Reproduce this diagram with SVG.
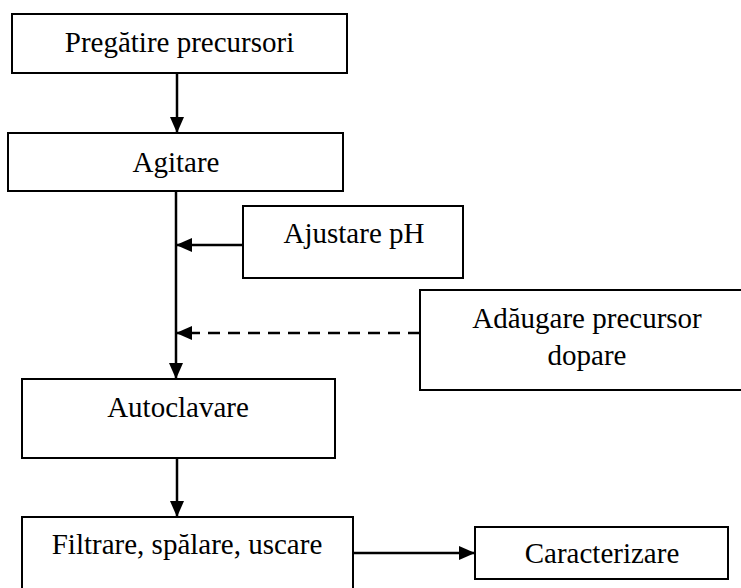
<svg xmlns="http://www.w3.org/2000/svg" width="741" height="588" viewBox="0 0 741 588">
<style>
.box{fill:#fff;stroke:#000;stroke-width:2}
.t{font-size:29px;fill:#000;text-anchor:middle}
.c{stroke:#000;stroke-width:2.5;fill:none}
.d{stroke-dasharray:12 8}
</style>
<defs>
<marker id="ah" markerUnits="userSpaceOnUse" markerWidth="17" markerHeight="14" refX="16" refY="7" orient="auto">
<path d="M0,0 L16,7 L0,14 z" fill="#000"/>
</marker>
</defs>
<rect width="741" height="588" fill="#fff"/>
<g font-family="'Liberation Serif', 'DejaVu Serif', serif">
<g id="n1"><rect class="box" x="12" y="14" width="335" height="59"/><text class="t" x="179.5" y="52">Pregătire precursori</text></g>
<g id="n2"><rect class="box" x="8" y="133" width="335" height="58"/><text class="t" x="176" y="172">Agitare</text></g>
<g id="n3"><rect class="box" x="243" y="206" width="220" height="72"/><text class="t" x="354" y="243">Ajustare pH</text></g>
<g id="n4"><rect class="box" x="420" y="290" width="334" height="100"/><text class="t" x="587" y="328">Adăugare precursor</text><text class="t" x="587" y="365">dopare</text></g>
<g id="n5"><rect class="box" x="22" y="379" width="313" height="79"/><text class="t" x="178" y="417">Autoclavare</text></g>
<g id="n6"><rect class="box" x="22" y="517" width="331" height="80"/><text class="t" x="187" y="554">Filtrare, spălare, uscare</text></g>
<g id="n7"><rect class="box" x="475" y="527" width="253" height="52"/><text class="t" x="602" y="563">Caracterizare</text></g>
</g>
<g id="connectors">
<path class="c" d="M177,73 V133" marker-end="url(#ah)"/>
<path class="c" d="M176,191 V379" marker-end="url(#ah)"/>
<path class="c" d="M243,245 H176" marker-end="url(#ah)"/>
<path class="c d" d="M420,333 H176" marker-end="url(#ah)"/>
<path class="c" d="M177,458 V517" marker-end="url(#ah)"/>
<path class="c" d="M353,553 H475" marker-end="url(#ah)"/>
</g>
</svg>
